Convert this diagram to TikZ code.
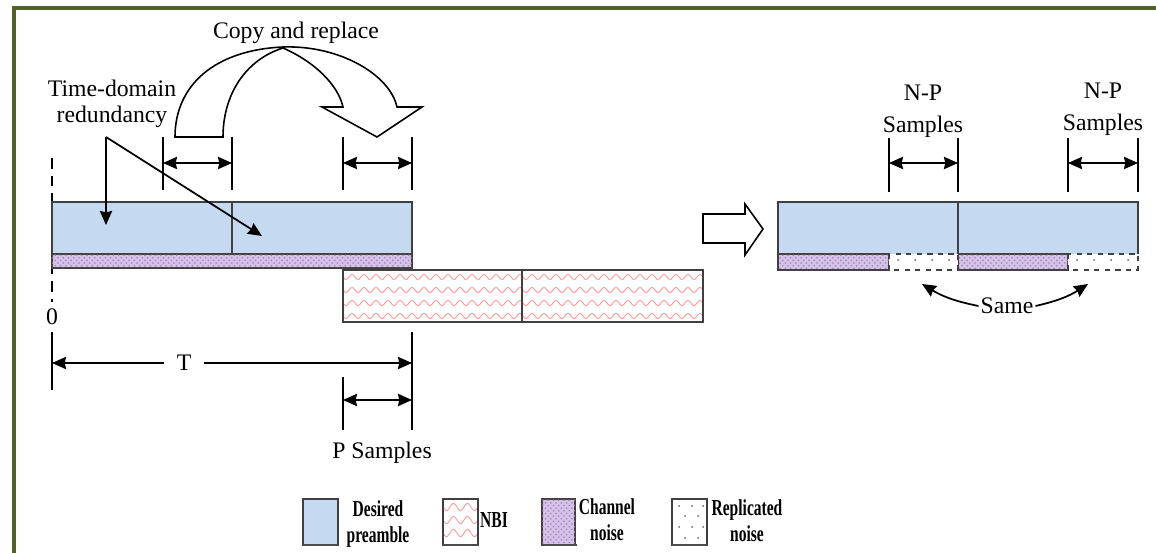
\documentclass[tikz,border=0pt]{standalone}
\usepackage{fontspec}
\setmainfont{Liberation Serif}
\usepackage{graphicx}
\usetikzlibrary{arrows.meta,patterns,calc,positioning}
\definecolor{preblue}{RGB}{197,217,240}
\definecolor{framegreen}{RGB}{80,100,42}
\definecolor{lavender}{RGB}{210,196,230}
\newcommand{\legsq}[1]{\scalebox{0.68}[1]{#1}}
% wavy NBI hatching: x1, y1, x2, y2, row list, period, amplitude
\newcommand{\waverows}[7]{%
  \begin{scope}
    \clip (#1,#2) rectangle (#3,#4);
    \foreach \wy in {#5}
      \draw[wave] plot[domain=#1:#3,samples=361] (\x,{\wy+#7*sin(360/#6*(\x-#1))});
  \end{scope}}
\tikzset{
  edge/.style={draw=black!75,line width=0.7pt},
  pre/.style={edge,fill=preblue},
  chn/.style={edge,fill=lavender,postaction={pattern=crosshatch dots,pattern color=violet!55}},
  rep/.style={edge,dashed,fill=white},
  wave/.style={red!40,line width=0.5pt},
  tick/.style={line width=1pt},
  dim/.style={{Stealth[length=8pt,width=7pt,inset=0.8pt]}-{Stealth[length=8pt,width=7pt,inset=0.8pt]},line width=1.1pt},
  arr/.style={-{Stealth[length=8pt,width=7pt,inset=0.8pt]},line width=1pt},
  hollow/.style={draw,fill=white,line width=0.9pt,line join=miter},
  zeroline/.style={line width=1pt,dash pattern=on 6pt off 4pt},
  legtxt/.style={font=\fontsize{13}{14.7}\selectfont\bfseries,align=center,inner sep=0pt},
  legbase/.style={line width=1.6pt,black!70},
  rdot/.style={fill=black!60},
}

\begin{document}
\begin{tikzpicture}[x=0.02cm,y=-0.02cm,
                    every node/.style={font=\fontsize{13.5}{14.5}\selectfont,inner sep=1pt}]
\useasboundingbox (0,0) rectangle (1156,553);
% frame
\draw[framegreen,line width=1.8pt] (14,553) -- (14,8) -- (1156,8);

% ---- received preamble with NBI
\draw[zeroline] (52,158) -- (52,302);
\draw[pre] (52,202) rectangle (232,254);
\draw[pre] (232,202) rectangle (412,254);
\draw[chn] (52,254) rectangle (412,268);
\waverows{343}{270}{703}{322}{277,290,303,316}{12}{2.5}
\draw[edge] (343,270) rectangle (522,322);
\draw[edge] (522,270) rectangle (703,322);
\node (zero) at (52,317) {0};

\foreach \tx in {163,232,343,412}
  \draw[tick] (\tx,137) -- (\tx,190);
\coordinate (c1) at (163,163); \coordinate (c2) at (232,163);
\coordinate (r1) at (343,163); \coordinate (r2) at (412,163);
\draw[dim] (c1) -- (c2);
\draw[dim] (r1) -- (r2);

% copy and replace arrow
\draw[hollow] (175,137) -- (223,137)
  .. controls (223,95) and (245,60) .. (283,48)
  .. controls (315,62) and (338,85) .. (343,107)
  -- (322,107) -- (377,137) -- (422,107) -- (397,107)
  .. controls (390,75) and (340,45) .. (283,47)
  .. controls (215,50) and (175,85) .. (175,137) -- cycle;
\node (copy) at (296,33) {Copy and replace};

\node[align=center] (tdr) at (112,104) {Time-domain\\redundancy};
\coordinate (fork) at (106,137);
\coordinate (tipa) at (106,225);
\coordinate (tipb) at (262,236);
\draw[arr] (fork) -- (tipa);
\draw[arr] (fork) -- (tipb);

% T and P samples
\draw[tick] (52,332) -- (52,390);
\draw[tick] (412,332) -- (412,430);
\draw[tick] (343,377) -- (343,430);
\node[inner sep=7pt] (tlab) at (184,363) {T};
\coordinate (t0) at (52,363); \coordinate (t1) at (412,363);
\draw[arr] (tlab) -- (t0);
\draw[arr] (tlab) -- (t1);
\coordinate (p0) at (343,400); \coordinate (p1) at (412,400);
\draw[dim] (p0) -- (p1);
\node (plab) at (382,453) {P Samples};

% hollow arrow to the right
\draw[hollow] (703,214) -- (745,214) -- (745,204) -- (763,229)
  -- (745,255) -- (745,243) -- (703,243) -- cycle;

% ---- after replacement
\fill[preblue] (778,202) rectangle (1138,254);
\draw[edge] (778,254) -- (778,202) -- (1138,202) -- (1138,254)
            (958,202) -- (958,254);
\draw[chn] (778,254) rectangle (889,270);
\draw[chn] (958,254) rectangle (1068,270);
\draw[rep] (889,254) rectangle (958,270);
\draw[rep] (1068,254) rectangle (1138,270);
\foreach \rx in {889,1068}
  \foreach \dx in {9,26,43,60}
    \fill[rdot] (\rx+\dx,260) circle[radius=1];

\foreach \tx in {889,958,1068,1138}
  \draw[tick] (\tx,138) -- (\tx,192);
\coordinate (n1) at (889,163); \coordinate (n2) at (958,163);
\coordinate (n3) at (1068,163); \coordinate (n4) at (1138,163);
\draw[dim] (n1) -- (n2);
\draw[dim] (n3) -- (n4);
\node[align=center,font=\fontsize{13.5}{18}\selectfont] (np1) at (923,111) {N-P\\Samples};
\node[align=center,font=\fontsize{13.5}{18}\selectfont] (np2) at (1103,109) {N-P\\Samples};

\node (same) at (1007,306) {Same};
\coordinate (sl) at (922,284); \coordinate (sr) at (1088,284);
\draw[arr] (same.west) to[bend left=10] (sl);
\draw[arr] (same.east) to[bend right=10] (sr);

% ---- legend
\draw[pre] (303,499) rectangle (338,545);
\waverows{443}{499}{478}{545}{507,520,533}{14}{3.5}
\draw[edge] (443,499) rectangle (478,545);
\draw[chn] (542,499) rectangle (575,545);
\draw[edge] (672,499) rectangle (707,545);
\foreach \dx/\dy in {679/506,692/506,703/506,685/516,698/516,
                     679/527,692/527,703/527,685/538,698/538}
  \fill[rdot] (\dx,\dy) circle[radius=1];
\foreach \lx in {303,443,542,672}
  \draw[legbase] (\lx,545) -- ++(35,0);
\node[legtxt] (lpre) at (378,524) {\legsq{Desired}\\\legsq{preamble}};
\node[legtxt] (lnbi) at (494,520) {\legsq{NBI}};
\node[legtxt] (lchn) at (607,520) {\legsq{Channel}\\\legsq{noise}};
\node[legtxt] (lrep) at (747,521) {\legsq{Replicated}\\\legsq{noise}};
\end{tikzpicture}
\end{document}
